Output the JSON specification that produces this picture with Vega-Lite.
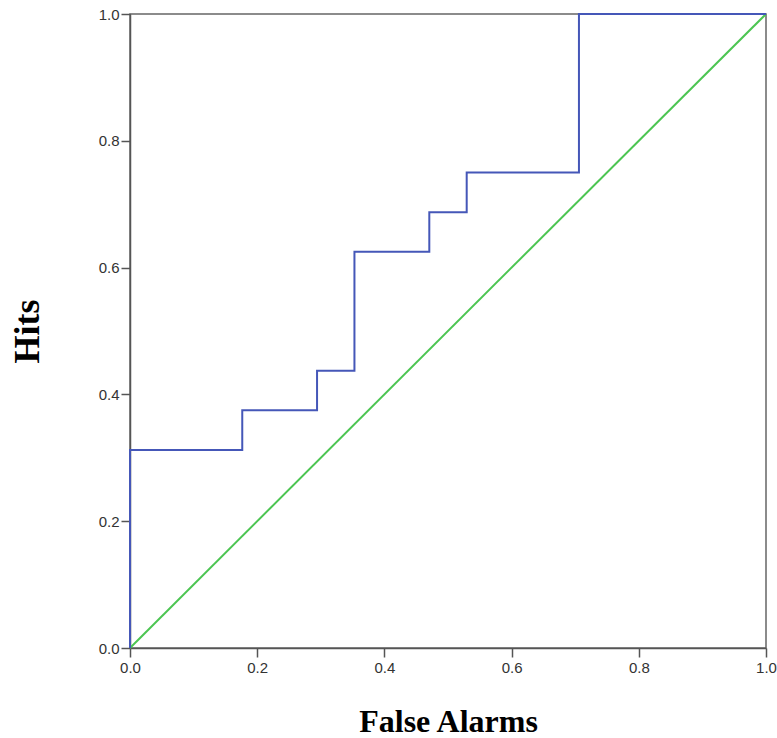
{
  "$schema": "https://vega.github.io/schema/vega-lite/v6.json",
  "autosize": "none",
  "width": 636,
  "height": 634,
  "padding": {"left": 130, "top": 14, "right": 11, "bottom": 90},
  "background": "white",
  "config": {
    "view": {"stroke": "#666666", "strokeWidth": 1.5},
    "axis": {
      "grid": false,
      "domainColor": "#555555",
      "domainWidth": 1.5,
      "tickColor": "#555555",
      "tickWidth": 1.5,
      "tickSize": 9,
      "labelFont": "Liberation Sans",
      "labelFontSize": 15,
      "labelColor": "#333333",
      "labelFlush": false,
      "titleFont": "Liberation Serif",
      "titleFontWeight": "bold",
      "titleColor": "#000000"
    }
  },
  "datasets": {
    "roc": [
      {"order": 0, "fa": 0.0, "hits": 0.0},
      {"order": 1, "fa": 0.0, "hits": 0.3125},
      {"order": 2, "fa": 0.1765, "hits": 0.375},
      {"order": 3, "fa": 0.2941, "hits": 0.4375},
      {"order": 4, "fa": 0.3529, "hits": 0.625},
      {"order": 5, "fa": 0.4706, "hits": 0.6875},
      {"order": 6, "fa": 0.5294, "hits": 0.75},
      {"order": 7, "fa": 0.7059, "hits": 1.0},
      {"order": 8, "fa": 1.0, "hits": 1.0}
    ],
    "ref": [
      {"order": 0, "fa": 0.0, "hits": 0.0},
      {"order": 1, "fa": 1.0, "hits": 1.0}
    ]
  },
  "layer": [
    {
      "data": {"name": "ref"},
      "mark": {"type": "line", "color": "#4CC552", "strokeWidth": 2},
      "encoding": {
        "x": {
          "field": "fa", "type": "quantitative",
          "scale": {"domain": [0, 1], "nice": false},
          "axis": {"values": [0, 0.2, 0.4, 0.6, 0.8, 1.0], "format": ".1f", "title": "False Alarms", "titleFontSize": 32, "titleAnchor": "middle", "titleY": 83, "titleBaseline": "alphabetic", "labelPadding": 3}
        },
        "y": {
          "field": "hits", "type": "quantitative",
          "scale": {"domain": [0, 1], "nice": false},
          "axis": {"values": [0, 0.2, 0.4, 0.6, 0.8, 1.0], "format": ".1f", "title": "Hits", "titleFontSize": 36, "titleX": -103, "titleY": 317, "titleAlign": "center", "titleBaseline": "middle", "titleAngle": -90, "labelPadding": 2}
        },
        "order": {"field": "order", "type": "quantitative"}
      }
    },
    {
      "data": {"name": "roc"},
      "mark": {"type": "line", "color": "#4557B8", "strokeWidth": 2, "interpolate": "step-after"},
      "encoding": {
        "x": {"field": "fa", "type": "quantitative"},
        "y": {"field": "hits", "type": "quantitative"},
        "order": {"field": "order", "type": "quantitative"}
      }
    }
  ]
}
